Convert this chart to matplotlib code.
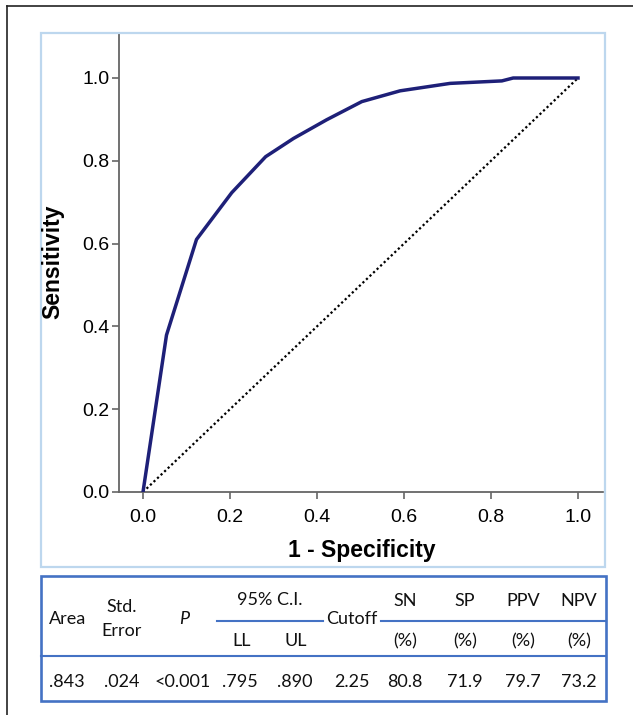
import matplotlib
matplotlib.use("Agg")
import matplotlib.pyplot as plt
from matplotlib.lines import Line2D
from matplotlib.patches import Rectangle

# ---- data ----
fpr = [0.0, 0.054, 0.123, 0.204, 0.282, 0.346, 0.422, 0.503, 0.591, 0.706, 0.825, 0.851, 1.0]
tpr = [0.0, 0.379, 0.610, 0.723, 0.810, 0.854, 0.899, 0.943, 0.969, 0.987, 0.993, 1.0, 1.0]
ref_x = [0.0, 1.0]
ref_y = [0.0, 1.0]
ticks = [0.0, 0.2, 0.4, 0.6, 0.8, 1.0]
tick_labels = ["0.0", "0.2", "0.4", "0.6", "0.8", "1.0"]

hdr_cols = ["Area", "Std.\nError", "P", "Cutoff"]
ci_head = "95% C.I."
ci_cols = ["LL", "UL"]
metric_cols = ["SN", "SP", "PPV", "NPV"]
values = [".843", ".024", "<0.001", ".795", ".890", "2.25", "80.8", "71.9", "79.7", "73.2"]

W, H = 633, 715
fig = plt.figure(figsize=(W / 100, H / 100), dpi=100)

def fx(px):
    return px / W

def fy(py):
    return 1 - py / H

# outer black frame (left and top only)
fig.add_artist(Line2D([fx(7), fx(7)], [fy(6), fy(715)], color="#222222", lw=1.2))
fig.add_artist(Line2D([fx(7), fx(633)], [fy(6), fy(6)], color="#222222", lw=1.2))

# light blue chart frame
fig.add_artist(Rectangle((fx(41), fy(567)), fx(605) - fx(41), fy(33) - fy(567),
                         fill=False, ec="#BDD7EE", lw=1.6, transform=fig.transFigure))

# axes
ax_l, ax_r, ax_t, ax_b = 119, 603, 33, 492
ax = fig.add_axes([fx(ax_l), fy(ax_b), fx(ax_r) - fx(ax_l), fy(ax_t) - fy(ax_b)])
ax.set_facecolor("none")
x0px, x1px = 143, 578
y0px, y1px = 492, 78
sx = (x1px - x0px)
sy = (y0px - y1px)
ax.set_xlim((ax_l - x0px) / sx, (ax_r - x0px) / sx)
ax.set_ylim((y0px - ax_b) / sy, (y0px - ax_t) / sy)

ax.plot(ref_x, ref_y, color="black", lw=1.6, linestyle=(0, (1, 1.2)), zorder=2)
ax.plot(fpr, tpr, color="#1E2078", lw=2.5, solid_joinstyle="round", zorder=3)

for s in ["top", "right"]:
    ax.spines[s].set_visible(False)
for s in ["left", "bottom"]:
    ax.spines[s].set_color("#666666")
    ax.spines[s].set_linewidth(1.3)
ax.set_xticks(ticks)
ax.set_xticklabels(tick_labels)
ax.set_yticks(ticks)
ax.set_yticklabels(tick_labels)
ax.tick_params(colors="#666666", labelcolor="black", length=5, width=1.2, direction="out",
               labelsize=14)
for lab in ax.get_xticklabels() + ax.get_yticklabels():
    lab.set_family("Liberation Sans")
ax.tick_params(axis="x", pad=7)
ax.tick_params(axis="y", pad=2)

fig.text(fx(362), fy(550), "1 - Specificity", ha="center", va="center",
         fontsize=16.5, fontweight="bold", family="Liberation Sans")
fig.text(fx(53), fy(262), "Sensitivity", ha="center", va="center", rotation=90,
         fontsize=16.5, fontweight="bold", family="Liberation Sans")

# ---- table ----
blue = "#4472C4"
fig.add_artist(Rectangle((fx(41), fy(701)), fx(606) - fx(41), fy(576) - fy(701),
                         fill=False, ec=blue, lw=1.9, transform=fig.transFigure))
fig.add_artist(Line2D([fx(41), fx(606)], [fy(656), fy(656)], color=blue, lw=1.5))
fig.add_artist(Line2D([fx(217), fx(323)], [fy(620.5), fy(620.5)], color=blue, lw=1.5))
fig.add_artist(Line2D([fx(381), fx(606)], [fy(620.5), fy(620.5)], color=blue, lw=1.5))

tfont = dict(family="Lato", fontsize=13, ha="center", va="center", color="#111111")
hdr_x = [68, 122, 184, 352]
for i, (t, x) in enumerate(zip(hdr_cols, hdr_x)):
    kw = dict(tfont)
    if t == "P":
        kw["style"] = "italic"
    if "\n" in t:
        top, bot = t.split("\n")
        fig.text(fx(x), fy(607), top, **kw)
        fig.text(fx(x), fy(631), bot, **kw)
    else:
        fig.text(fx(x), fy(618.5), t, **kw)

fig.text(fx(270), fy(600), ci_head, **tfont)
for t, x in zip(ci_cols, [242, 296]):
    fig.text(fx(x), fy(641.5), t, **tfont)

met_x = [405, 465, 523, 579]
for t, x in zip(metric_cols, met_x):
    fig.text(fx(x), fy(601), t, **tfont)
    fig.text(fx(x), fy(641.5), "(%)", **tfont)

val_x = [67, 122, 183, 240, 295, 352, 405, 465, 523, 579]
for t, x in zip(values, val_x):
    fig.text(fx(x), fy(682), t, **tfont)

fig.savefig("out.png", dpi=100, facecolor="white")
